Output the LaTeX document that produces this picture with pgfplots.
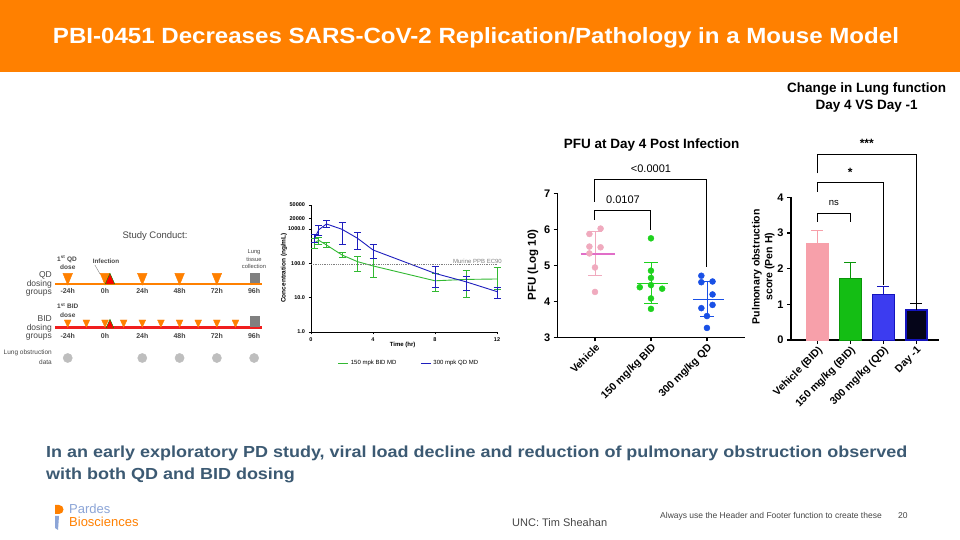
\documentclass[border=0pt]{standalone}
\usepackage{graphicx}
\usepackage{pgfplots}
\pgfplotsset{compat=1.18}
\usepackage{fontspec}
\setmainfont{Liberation Sans}
\newcommand{\fs}[1]{\fontsize{#1}{\dimexpr #1pt*12/10\relax}\selectfont}
\definecolor{hdr}{RGB}{255,128,0}
\definecolor{bodyblue}{RGB}{60,90,115}
\definecolor{ltblue}{RGB}{140,165,215}
\definecolor{pkgreen}{RGB}{50,185,50}
\definecolor{pkblue}{RGB}{30,30,190}
\definecolor{vpink}{RGB}{240,170,190}
\definecolor{vmean}{RGB}{225,110,200}
\definecolor{sgreen}{RGB}{30,210,30}
\definecolor{sblue}{RGB}{25,80,230}
\definecolor{bpink}{RGB}{247,160,170}
\definecolor{bgreen}{RGB}{20,190,20}
\definecolor{bgreenD}{RGB}{10,150,10}
\definecolor{bblue}{RGB}{60,60,240}
\definecolor{bblueD}{RGB}{20,20,190}
\definecolor{bdark}{RGB}{5,5,25}
\definecolor{borange}{RGB}{255,128,0}
\definecolor{bidred}{RGB}{240,30,30}
\definecolor{dotgray}{RGB}{190,190,190}
\definecolor{txtgray}{RGB}{70,70,70}
\begin{document}
\begin{tikzpicture}[x=1pt,y=1pt]
\useasboundingbox (0,0) rectangle (960,540);
\fill[white] (0,0) rectangle (960,540);
% header
\fill[hdr] (0,468) rectangle (960,540);
\node[text=white, font=\bfseries\fs{22}] at (476,502) {\scalebox{1.095}[1]{PBI-0451 Decreases SARS-CoV-2 Replication/Pathology in a Mouse Model}};
% body text
\node[anchor=base west, inner sep=0, text=bodyblue, font=\bfseries\fs{16}] at (46,82.7) {\scalebox{1.124}[1]{In an early exploratory PD study, viral load decline and reduction of pulmonary obstruction observed}};
\node[anchor=base west, inner sep=0, text=bodyblue, font=\bfseries\fs{16}] at (46,60.7) {\scalebox{1.124}[1]{with both QD and BID dosing}};
% footer
\fill[hdr] (55,35) -- (59,35) arc[start angle=90, end angle=-90, radius=4.5] -- (55,26) -- cycle;
\fill[ltblue] (55,24) -- (59,24) -- (58,10) -- (55,12) -- cycle;
\node[anchor=base west, inner sep=0, text=ltblue, font=\fs{13}] at (69,26.3) {Pardes};
\node[anchor=base west, inner sep=0, text=hdr, font=\fs{13}] at (69,13.3) {Biosciences};
\node[anchor=base west, inner sep=0, text=txtgray, font=\fs{11}] at (512,13) {UNC: Tim Sheahan};
\node[anchor=base west, inner sep=0, text=txtgray, font=\fs{8.5}] at (660,21) {Always use the Header and Footer function to create these};
\node[anchor=base west, inner sep=0, text=txtgray, font=\fs{8.5}] at (898,21) {20};

% ---------------- Study conduct ----------------
\node[text=txtgray, font=\fs{9.5}] at (155,304) {Study Conduct:};
\begin{axis}[at={(55.3pt,170pt)}, anchor=south west, scale only axis, width=206.6pt, height=130pt,
  xmin=-32, xmax=101, ymin=170, ymax=300, axis lines=none, clip=false]
\addplot[borange, line width=2.5] coordinates {(-32,256) (101,256)};
\addplot[bidred, line width=3] coordinates {(-32,212) (101,212)};
\addplot[only marks, mark=triangle*, mark size=5.5, color=borange, mark options={rotate=180, yscale=1.4}] coordinates {(-24,262.7) (0,262.7) (24,262.7) (48,262.7) (72,262.7)};
\addplot[only marks, mark=triangle*, mark size=3.9, color=borange, mark options={rotate=180, yscale=1.25}] coordinates {(-24,217.6) (-12,217.6) (0,217.6) (12,217.6) (24,217.6) (36,217.6) (48,217.6) (60,217.6) (72,217.6) (84,217.6)};
\addplot[only marks, mark=triangle*, mark size=5.5, mark options={fill=red, draw=green!60!black, yscale=1.3}] coordinates {(3.2,259.6)};
\addplot[only marks, mark=triangle*, mark size=4.5, mark options={fill=red, draw=green!60!black, yscale=1.3}] coordinates {(3.2,214.9)};
\addplot[only marks, mark=square*, mark size=4.6, color=gray] coordinates {(96.4,262.2) (96.4,218.8)};
\addplot[only marks, mark=*, mark size=4.6, color=dotgray] coordinates {(-24,182) (24,182) (48,182) (72,182) (96,182)};
\draw[gray, line width=0.4] (axis cs:-6.5,275) -- (axis cs:-3.2,266);
\end{axis}
\foreach \x/\l in {67.7/-24h,105/0h,142.3/24h,179.6/48h,216.8/72h,254.1/96h}{
  \node[font=\bfseries\fs{7}, text=txtgray] at (\x,249) {\l};
  \node[font=\bfseries\fs{7}, text=txtgray] at (\x,204) {\l};
}
\node[anchor=east, font=\fs{8.5}, text=txtgray, inner sep=0] at (52,265) {QD};
\node[anchor=east, font=\fs{8.5}, text=txtgray, inner sep=0] at (52,256) {dosing};
\node[anchor=east, font=\fs{8.5}, text=txtgray, inner sep=0] at (52,247) {groups};
\node[anchor=east, font=\fs{8.5}, text=txtgray, inner sep=0] at (52,221) {BID};
\node[anchor=east, font=\fs{8.5}, text=txtgray, inner sep=0] at (52,212) {dosing};
\node[anchor=east, font=\fs{8.5}, text=txtgray, inner sep=0] at (52,203) {groups};
\node[anchor=east, font=\fs{6.5}, text=txtgray, inner sep=0] at (52,187) {Lung obstruction};
\node[anchor=east, font=\fs{6.5}, text=txtgray, inner sep=0] at (52,178) {data};
\node[anchor=west, font=\bfseries\fs{6.5}, text=txtgray, inner sep=0] at (57,281) {1\textsuperscript{st} QD};
\node[anchor=west, font=\bfseries\fs{6.5}, text=txtgray, inner sep=0] at (60,273) {dose};
\node[anchor=west, font=\bfseries\fs{6.5}, text=txtgray, inner sep=0] at (57,234) {1\textsuperscript{st} BID};
\node[anchor=west, font=\bfseries\fs{6.5}, text=txtgray, inner sep=0] at (60,225) {dose};
\node[font=\bfseries\fs{6.3}, text=txtgray] at (106,279) {Infection};
\node[font=\fs{5.8}, text=txtgray] at (254,288) {Lung};
\node[font=\fs{5.8}, text=txtgray] at (254,281) {tissue};
\node[font=\fs{5.8}, text=txtgray] at (254,274) {collection};

% ---------------- PK chart ----------------
\begin{axis}[at={(311pt,208pt)}, anchor=south west, scale only axis, width=186pt, height=127pt,
  xmin=0, xmax=12, ymin=1, ymax=5000, ymode=log,
  axis lines*=left, axis line style={line width=0.8, -},
  xtick={0,4,8,12}, ytick={1,10,100,1000,2000,5000},
  yticklabels={1.0,10.0,100.0,1000.0,20000,50000},
  minor ytick={}, tick style={black, line width=0.6}, tick align=outside, major tick length=2.5pt,
  tick label style={font=\bfseries\fs{5.5}}, /pgf/number format/assume math mode=true,
  xlabel={Time (hr)}, ylabel={Concentration (ng/mL)},
  xlabel style={font=\bfseries\fs{6}, at={(axis description cs:0.493,-0.102)}, anchor=center},
  ylabel style={font=\bfseries\fs{6.5}, at={(axis description cs:-0.145,0.504)}, anchor=center},
  legend style={at={(0.527,-0.244)}, anchor=center, draw=none, fill=none, legend columns=2,
    font=\fs{6}, /tikz/every even column/.append style={column sep=22pt}, inner sep=0pt},
  legend image code/.code={\draw[#1, line width=0.9] (0pt,0pt) -- (10pt,0pt);},
  clip=false]
\addplot[pkgreen, line width=0.9, error bars/.cd, y dir=both, y explicit,
  error bar style={line width=0.8}, error mark options={rotate=90, mark size=3.5, line width=0.8}]
  coordinates {(0.25,400) += (0,137) -= (0,125) (0.5,470) += (0,90) -= (0,120)
   (1,342) += (0,58) -= (0,52) (2,175) += (0,29) -= (0,25) (3,112) += (0,43) -= (0,52)
   (4,84) += (0,56) -= (0,45) (8,31) += (0,20) -= (0,16) (10,34) += (0,27) -= (0,24)
   (12,35) += (0,39) -= (0,18)};
\addlegendentry{150 mpk BID MD}
\addplot[pkblue, line width=0.9, error bars/.cd, y dir=both, y explicit,
  error bar style={line width=0.8}, error mark options={rotate=90, mark size=3.5, line width=0.8}]
  coordinates {(0.25,557) += (0,160) -= (0,157) (0.5,950) += (0,300) -= (0,280)
   (1,1400) += (0,420) -= (0,280) (2,980) += (0,590) -= (0,614) (3,537) += (0,243) -= (0,280)
   (4,245) += (0,114) -= (0,105) (8,51) += (0,29) -= (0,31) (10,29) += (0,14) -= (0,13)
   (12,15) += (0,4.5) -= (0,5.4)};
\addlegendentry{300 mpk QD MD}
\addplot[gray, densely dotted, line width=0.8, forget plot] coordinates {(0,91) (12,91)};
\node[anchor=south east, font=\fs{6}, text=gray, inner sep=1pt, xshift=6pt] at (axis cs:12,91) {Murine PPB EC90};
\end{axis}

% ---------------- PFU chart ----------------
\node[font=\bfseries\fs{13.5}] at (651.7,395) {PFU at Day 4 Post Infection};
\begin{axis}[at={(557.7pt,202.7pt)}, anchor=south west, scale only axis, width=187.3pt, height=144pt,
  xmin=-0.666, xmax=2.68, ymin=3, ymax=7,
  axis lines*=left, axis line style={line width=1.5, -},
  xtick={0,1,2}, xticklabels={Vehicle,150 mg/kg BID,300 mg/kg QD}, ytick={3,4,5,6,7},
  tick style={black, line width=1.2}, tick align=outside, major tick length=4pt,
  x tick label style={rotate=45, anchor=north east, font=\bfseries\fs{10.5}, inner sep=1pt},
  y tick label style={font=\bfseries\fs{11}}, /pgf/number format/assume math mode=true,
  ylabel={PFU (Log 10)},
  ylabel style={font=\bfseries\fs{11.5}, at={(axis description cs:-0.132,0.502)}, anchor=center},
  clip=false]
\addplot[only marks, mark=*, mark size=3, color=vpink] coordinates {(-0.1,5.87) (0.1,6.02) (-0.1,5.52) (0.1,5.50) (-0.1,5.33) (0,4.94) (0,4.26)};
\addplot[only marks, mark=*, mark size=3, color=sgreen] coordinates {(1,5.75) (1,4.85) (1,4.65) (1,4.45) (0.8,4.39) (1.2,4.35) (1,4.08) (1,3.79)};
\addplot[only marks, mark=*, mark size=3, color=sblue] coordinates {(1.9,4.71) (1.9,4.53) (2.1,4.55) (2.1,4.19) (1.9,3.81) (2.1,3.90) (2,3.59) (2,3.26)};
% mean and SD
\addplot[vpink, line width=0.8] coordinates {(0,4.72) (0,5.95)};
\addplot[vpink, line width=0.8] coordinates {(-0.12,5.95) (0.12,5.95)};
\addplot[vpink, line width=0.8] coordinates {(-0.12,4.72) (0.12,4.72)};
\addplot[vmean, line width=1.5] coordinates {(-0.25,5.32) (0.35,5.32)};
\addplot[sgreen, line width=0.8] coordinates {(1,3.93) (1,5.08)};
\addplot[sgreen, line width=0.8] coordinates {(0.88,5.08) (1.12,5.08)};
\addplot[sgreen, line width=0.8] coordinates {(0.88,3.93) (1.12,3.93)};
\addplot[sgreen, line width=1.5] coordinates {(0.75,4.50) (1.3,4.50)};
\addplot[sblue, line width=0.8] coordinates {(2,3.59) (2,4.55)};
\addplot[sblue, line width=0.8] coordinates {(1.88,4.55) (2.12,4.55)};
\addplot[sblue, line width=0.8] coordinates {(1.88,3.59) (2.12,3.59)};
\addplot[sblue, line width=1.5] coordinates {(1.75,4.05) (2.3,4.05)};
% brackets
\draw[line width=1] (axis cs:0,6.77) -- (axis cs:0,7.37) -- (axis cs:2,7.37) -- (axis cs:2,4.94);
\node[font=\fs{11}] at (axis cs:1,7.67) {<0.0001};
\draw[line width=1] (axis cs:0,6.26) -- (axis cs:0,6.52) -- (axis cs:1,6.52) -- (axis cs:1,5.98);
\node[font=\fs{11}] at (axis cs:0.5,6.81) {0.0107};
\end{axis}

% ---------------- Bar chart ----------------
\node[font=\bfseries\fs{13.5}, align=center] at (866.7,442.5) {Change in Lung function\\Day 4 VS Day -1};
\begin{axis}[at={(791pt,200pt)}, anchor=south west, scale only axis, width=148.3pt, height=142.7pt,
  xmin=-0.8, xmax=3.7, ymin=0, ymax=4,
  axis lines*=left, axis line style={line width=1.5, -},
  xtick={0,1,2,3}, xticklabels={Vehicle (BID),150 mg/kg (BID),300 mg/kg (QD),Day -1}, ytick={0,1,2,3,4},
  tick style={black, line width=1.2}, tick align=outside, major tick length=4pt,
  x tick label style={rotate=45, anchor=north east, font=\bfseries\fs{10.5}, inner sep=1pt},
  y tick label style={font=\bfseries\fs{11}}, /pgf/number format/assume math mode=true,
  ylabel={Pulmonary obstruction\\score (Pen H)},
  ylabel style={font=\bfseries\fs{10.5}, align=center, at={(axis description cs:-0.187,0.514)}, anchor=center},
  clip=false]
\addplot[ybar, bar width=22pt, bar shift=0pt, fill=bpink, draw=bpink,
  error bars/.cd, y dir=plus, y explicit, error bar style={bpink, line width=1}, error mark options={rotate=90, mark size=6, bpink, line width=1}]
  coordinates {(0,2.72) +- (0,0.35)};
\addplot[ybar, bar width=22pt, bar shift=0pt, fill=bgreen, draw=bgreenD,
  error bars/.cd, y dir=plus, y explicit, error bar style={bgreenD, line width=1}, error mark options={rotate=90, mark size=6, bgreenD, line width=1}]
  coordinates {(1,1.73) +- (0,0.45)};
\addplot[ybar, bar width=22pt, bar shift=0pt, fill=bblue, draw=bblueD,
  error bars/.cd, y dir=plus, y explicit, error bar style={bblueD, line width=1}, error mark options={rotate=90, mark size=6, bblueD, line width=1}]
  coordinates {(2,1.29) +- (0,0.22)};
\addplot[ybar, bar width=21pt, bar shift=0pt, fill=bdark, draw=bblueD, line width=2,
  error bars/.cd, y dir=plus, y explicit, error bar style={black, line width=1}, error mark options={rotate=90, mark size=6, black, line width=1}]
  coordinates {(3,0.84) +- (0,0.18)};
\draw[line width=1.2] (axis cs:0,3.32) -- (axis cs:0,3.55) -- (axis cs:1,3.55) -- (axis cs:1,3.32);
\node[font=\fs{9.5}] at (axis cs:0.5,3.83) {ns};
\draw[line width=1.2] (axis cs:0,4.16) -- (axis cs:0,4.42) -- (axis cs:2,4.42) -- (axis cs:2,1.55);
\node[font=\bfseries\fs{12}] at (axis cs:1,4.70) {*};
\draw[line width=1.2] (axis cs:0,4.67) -- (axis cs:0,5.21) -- (axis cs:3,5.21) -- (axis cs:3,1.05);
\node[font=\bfseries\fs{12}] at (axis cs:1.5,5.50) {***};
\end{axis}
\end{tikzpicture}
\end{document}
